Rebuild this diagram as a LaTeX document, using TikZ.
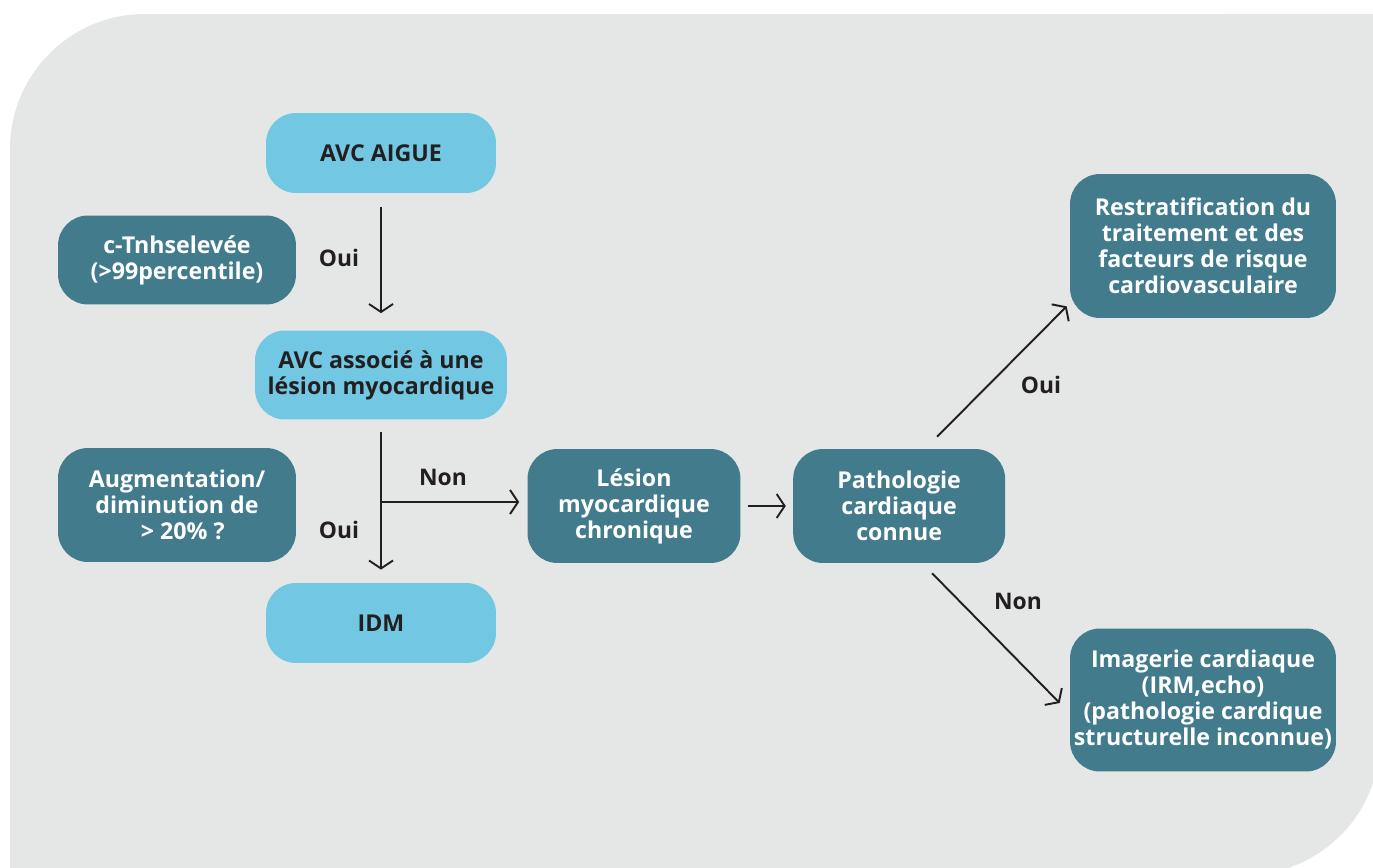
\documentclass[tikz,border=0pt]{standalone}
\usepackage{fontspec}
\setmainfont{Open Sans}
\usetikzlibrary{arrows.meta, positioning}
\definecolor{fondgris}{HTML}{E5E6E6}
\definecolor{bleuclair}{HTML}{72C8E2}
\definecolor{bleufonce}{HTML}{417B8C}
\definecolor{texte}{HTML}{231F20}
\tikzset{
        fleche/.style={->, draw=texte, line width=1.1pt}, % fleches ouvertes
        >={Straight Barb[length=1.6mm, width=4.8mm]},
        boite/.style={rounded corners=6mm, align=center, inner sep=0pt,
                font=\bfseries\fontsize{13.2}{14.8}\selectfont},
        clair/.style={boite, fill=bleuclair, text=texte},
        fonce/.style={boite, fill=bleufonce, text=white},
        etiq/.style={font=\bfseries\fontsize{13}{14.8}\selectfont, text=texte}
        }

\begin{document}
\begin{tikzpicture}[x=0.02cm, y=-0.02cm]
        \useasboundingbox[fill=white] (0,0) rectangle (1373,868);
        \fill[fondgris] (10,875) -- (10,149) arc[start angle=180, end angle=90, radius=2.7cm]
              -- (1380,14) -- (1380,740) arc[start angle=0, end angle=-90, radius=2.7cm] -- cycle;

        \node[clair, minimum width=4.6cm, minimum height=1.6cm](avc1) at (381,153) {AVC AIGUE};
        \node[clair, minimum width=5.04cm, minimum height=1.78cm](avc2) at (381,375) {AVC associé à une\\lésion myocardique};
        \node[clair, minimum width=4.6cm, minimum height=1.6cm](idm) at (381,623) {IDM};
        \node[fonce, minimum width=4.76cm, minimum height=1.78cm](tnh) at (177,260) {c-Tnhselevée\\(>99percentile)};
        \node[fonce, minimum width=4.76cm, minimum height=2.28cm](augm) at (177,505) {Augmentation/\\diminution de\\\hspace{0.5em}> 20\% ?};
        \node[fonce, minimum width=4.26cm, minimum height=2.28cm](lesion) at (634,506) {Lésion\\myocardique\\chronique};
        \node[fonce, minimum width=4.24cm, minimum height=2.28cm, right=1.04cm of lesion](patho) {Pathologie\\cardiaque\\connue};
        \node[fonce, minimum width=5.32cm, minimum height=2.88cm](restrat) at (1203,246) {Restratification du\\traitement et des\\facteurs de risque\\cardiovasculaire};
        \node[fonce, minimum width=5.32cm, minimum height=2.86cm](imag) at (1203,700) {Imagerie cardiaque\\(IRM,echo)\\(pathologie cardique\\structurelle inconnue)};

        \coordinate (embr) at (381,502);

        \draw[fleche, shorten <=0.28cm, shorten >=0.34cm] (avc1) -- (avc2);
        \draw[fleche, shorten <=0.24cm, shorten >=0.26cm] (avc2) -- (idm);
        \draw[fleche, shorten >=0.16cm] (embr) -- (embr -| lesion.west);
        \draw[fleche, shorten <=0.14cm, shorten >=0.14cm] (lesion) -- (patho);
        \draw[fleche] ([xshift=0.76cm, yshift=0.24cm]patho.north) -- ([xshift=-0.06cm, yshift=0.24cm]restrat.south west);
        \draw[fleche] ([xshift=0.66cm, yshift=-0.2cm]patho.south) -- ([xshift=-0.2cm, yshift=-0.06cm]imag.west);

        \node[etiq](oui1) at (339,258) {Oui};
        \node[etiq](oui2) at (339,530) {Oui};
        \node[etiq](non1) at (443,477) {Non};
        \node[etiq](oui3) at (1041,385) {Oui};
        \node[etiq](non2) at (1018,601) {Non};
\end{tikzpicture}
\end{document}
